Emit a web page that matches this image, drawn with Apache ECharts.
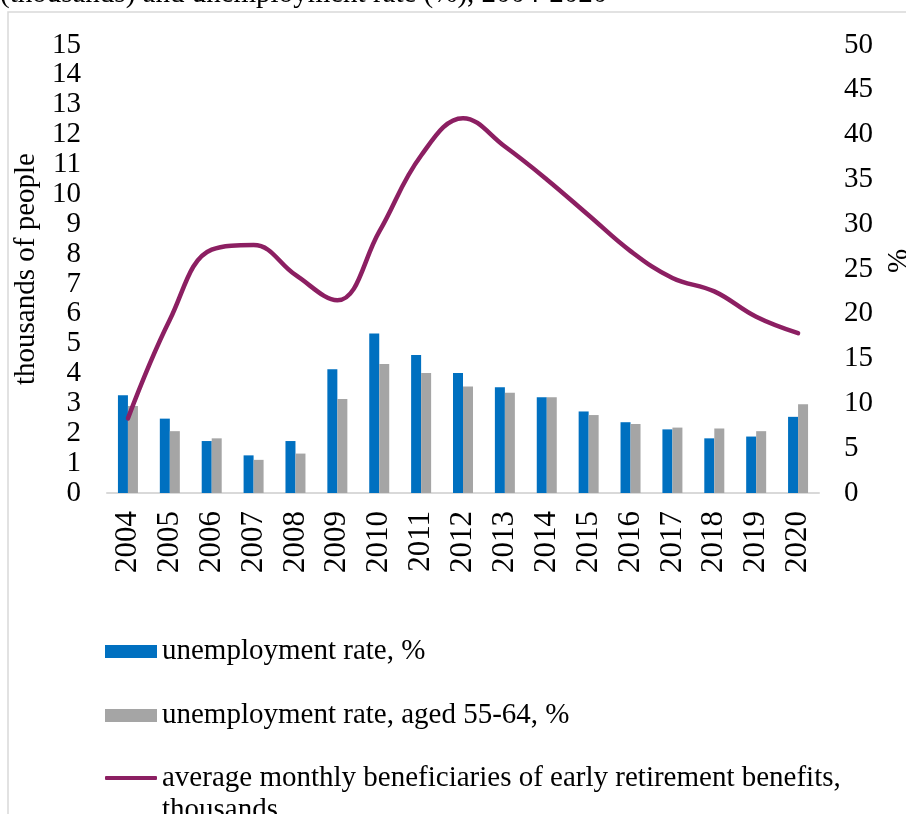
<!DOCTYPE html>
<html>
<head>
<meta charset="utf-8">
<script src="https://cdn.jsdelivr.net/npm/echarts@6/dist/echarts.min.js"></script>
<style>
  html, body { margin: 0; padding: 0; background: #fff; }
  #chart { width: 906px; height: 814px; }
</style>
</head>
<body>
<div id="chart"></div>
<script>
// Years on the category axis
const years = ['2004','2005','2006','2007','2008','2009','2010','2011','2012',
               '2013','2014','2015','2016','2017','2018','2019','2020'];

// Unemployment rate, % (right axis)
const unemploymentRate = [10.9, 8.3, 5.8, 4.2, 5.8, 13.8, 17.8, 15.4, 13.4,
                          11.8, 10.7, 9.1, 7.9, 7.1, 6.1, 6.3, 8.5];

// Unemployment rate of people aged 55-64, % (right axis)
const unemploymentRate5564 = [9.7, 6.9, 6.1, 3.7, 4.4, 10.5, 14.4, 13.4, 11.9,
                              11.2, 10.7, 8.7, 7.7, 7.3, 7.2, 6.9, 9.9];

// Average monthly beneficiaries of early retirement benefits, thousands (left axis)
const earlyRetirement = [2.5, 5.8, 8.15, 8.3, 7.3, 6.45, 8.75, 11.3, 12.55,
                         11.6, 10.5, 9.3, 8.1, 7.2, 6.75, 5.9, 5.35];

// Axis tick ranges
const leftTicks = { min: 0, max: 15, interval: 1 };
const rightTicks = { min: 0, max: 50, interval: 5 };

const nameRate = 'unemployment rate, %';
const nameRate5564 = 'unemployment rate, aged 55-64, %';
const nameRetire = 'average monthly beneficiaries of early retirement benefits, thousands';

const FONT = '"Liberation Serif", "Times New Roman", serif';
const FS = 29;
const LINE_COLOR = '#8C1F62';

const chart = echarts.init(document.getElementById('chart'), null, { renderer: 'canvas' });

const legendText = { fontFamily: FONT, fontSize: FS, color: '#000' };

chart.setOption({
  backgroundColor: '#ffffff',
  animation: false,
  textStyle: { fontFamily: FONT },
  graphic: [
    {
      type: 'rect',
      shape: { x: 8, y: 12, width: 1000, height: 900 },
      style: { fill: 'none', stroke: '#d9d9d9', lineWidth: 1.5 },
      silent: true
    },
    {
      type: 'text',
      x: 0,
      y: -20,
      style: {
        text: '(thousands) and unemployment rate (%), 2004-2020',
        fontFamily: FONT, fontSize: FS, fill: '#000',
        verticalAlign: 'top'
      },
      silent: true
    }
  ],
  grid: { left: 107, right: 87, top: 45, bottom: 321, containLabel: false, outerBoundsMode: 'none' },
  legend: [
    {
      orient: 'vertical', left: 100, top: 632,
      itemWidth: 52, itemHeight: 13, itemGap: 5,
      textStyle: legendText,
      data: [{ name: nameRate, icon: 'rect' }]
    },
    {
      orient: 'vertical', left: 100, top: 696,
      itemWidth: 52, itemHeight: 13, itemGap: 5,
      textStyle: legendText,
      data: [{ name: nameRate5564, icon: 'rect' }]
    },
    {
      orient: 'vertical', left: 100, top: 725,
      itemWidth: 52, itemHeight: 4, itemGap: 5,
      textStyle: Object.assign({ lineHeight: 32 }, legendText),
      // leading blank line keeps the first text line level with the icon
      formatter: function () {
        return '\naverage monthly beneficiaries of early retirement benefits,\nthousands';
      },
      data: [{ name: nameRetire, icon: 'roundRect' }]
    }
  ],
  xAxis: {
    type: 'category',
    data: years,
    axisLine: { lineStyle: { color: '#d9d9d9', width: 2 } },
    axisTick: { show: false },
    axisLabel: {
      rotate: 90, margin: 18, interval: 0,
      fontFamily: FONT, fontSize: 31, color: '#000'
    }
  },
  yAxis: [
    {
      type: 'value',
      min: leftTicks.min, max: leftTicks.max, interval: leftTicks.interval,
      name: 'thousands of people',
      nameLocation: 'middle', nameGap: 58, nameRotate: 90,
      nameTextStyle: { fontFamily: FONT, fontSize: FS, color: '#000' },
      axisLine: { show: false },
      axisTick: { show: false },
      splitLine: { show: false },
      axisLabel: { margin: 26, fontFamily: FONT, fontSize: FS, color: '#000' }
    },
    {
      type: 'value',
      min: rightTicks.min, max: rightTicks.max, interval: rightTicks.interval,
      name: '%',
      nameLocation: 'middle', nameGap: 66, nameRotate: 90,
      nameTextStyle: { fontFamily: FONT, fontSize: FS, color: '#000', padding: [0, 0, 0, 16] },
      axisLine: { show: false },
      axisTick: { show: false },
      splitLine: { show: false },
      axisLabel: { margin: 25, fontFamily: FONT, fontSize: FS, color: '#000' }
    }
  ],
  series: [
    {
      name: nameRate,
      type: 'bar',
      yAxisIndex: 1,
      data: unemploymentRate,
      barWidth: 10,
      barGap: '0%',
      itemStyle: { color: '#0070C0' }
    },
    {
      name: nameRate5564,
      type: 'bar',
      yAxisIndex: 1,
      data: unemploymentRate5564,
      barWidth: 10,
      itemStyle: { color: '#A5A5A5' }
    },
    {
      name: nameRetire,
      type: 'line',
      yAxisIndex: 0,
      data: earlyRetirement,
      smooth: 0.4,
      symbol: 'none',
      lineStyle: { color: LINE_COLOR, width: 4.5, cap: 'round' },
      itemStyle: { color: LINE_COLOR }
    }
  ]
});
</script>
</body>
</html>
